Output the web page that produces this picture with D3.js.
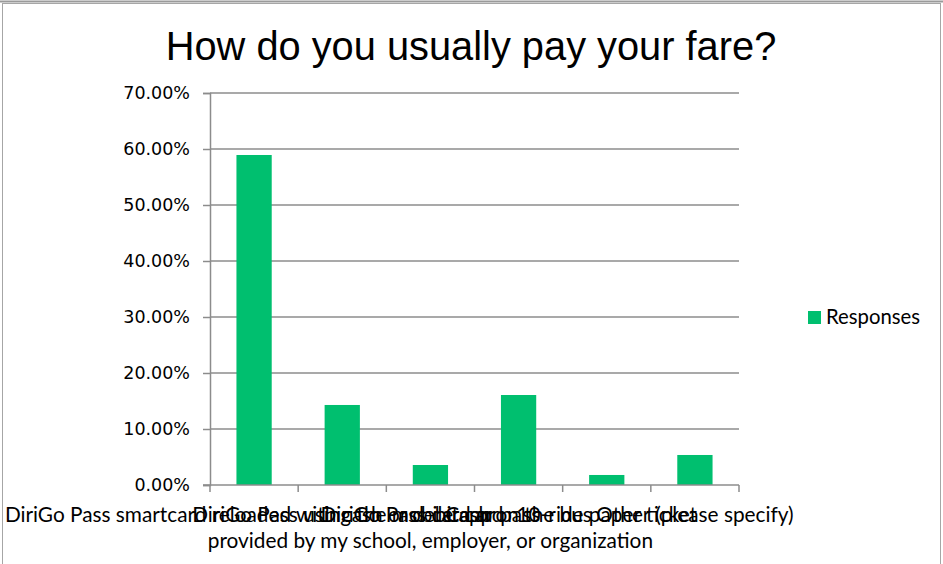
<!DOCTYPE html>
<html>
<head>
<meta charset="utf-8">
<script src="https://cdn.jsdelivr.net/npm/d3@7/dist/d3.min.js"></script>
<style>
  html, body { margin: 0; padding: 0; background: #fff; }
  svg { display: block; }
</style>
</head>
<body>
<svg id="chart" width="943" height="564"></svg>
<script>
// Survey question: fare payment method (share of responses)
const categories = [
  "DiriGo Pass smartcard reloaded with cash or debit card",
  "DiriGo Pass using the mobile app",
  "DiriGo Pass card or pass\nprovided by my school, employer, or organization",
  "Cash on the bus",
  "10-ride paper ticket",
  "Other (please specify)"
];
const responses = [0.5893, 0.1429, 0.0357, 0.1607, 0.0179, 0.0536];
const yTicks = [0, 0.1, 0.2, 0.3, 0.4, 0.5, 0.6, 0.7];
const seriesName = "Responses";
const chartTitle = "How do you usually pay your fare?";

const svg = d3.select("#chart");
const W = 943, H = 564;
const plot = { left: 210, right: 739, top: 93, bottom: 485 };
const green = "#00bf6f";
const gridColor = "#8c8c8c";

// outer chart frame
svg.append("line").attr("x1", 0).attr("x2", W).attr("y1", 1.5).attr("y2", 1.5)
  .attr("stroke", "#9a9a9a").attr("stroke-width", 2);
svg.append("rect").attr("x", 2.5).attr("y", 3.5).attr("width", 938).attr("height", 600)
  .attr("fill", "none").attr("stroke", "#a6a6a6").attr("stroke-width", 1);

// title
svg.append("text")
  .attr("x", 471).attr("y", 60)
  .attr("text-anchor", "middle")
  .attr("font-family", "Liberation Sans, Arial, sans-serif")
  .attr("font-size", 39.8)
  .attr("fill", "#000")
  .text(chartTitle);

const x = d3.scaleBand()
  .domain(categories)
  .range([plot.left, plot.right])
  .paddingInner(0.6)
  .paddingOuter(0.3);

const y = d3.scaleLinear()
  .domain([0, 0.7])
  .range([plot.bottom, plot.top]);

// horizontal gridlines
svg.append("g").selectAll("line")
  .data(yTicks.filter(t => t > 0))
  .join("line")
  .attr("x1", plot.left).attr("x2", plot.right)
  .attr("y1", d => y(d)).attr("y2", d => y(d))
  .attr("stroke", gridColor).attr("stroke-width", 1.5);

// y axis
const yAxis = svg.append("g")
  .attr("transform", `translate(${plot.left},0)`)
  .call(d3.axisLeft(y).tickValues(yTicks).tickFormat(d3.format(".2%")).tickSize(7).tickPadding(13));
yAxis.select(".domain").attr("stroke", gridColor).attr("stroke-width", 1.5);
yAxis.selectAll(".tick line").attr("stroke", gridColor).attr("stroke-width", 1.5);
yAxis.selectAll(".tick text")
  .attr("font-family", "DejaVu Sans, sans-serif")
  .attr("font-size", 17.5)
  .attr("fill", "#000");

// bars
svg.append("g").selectAll("rect")
  .data(categories.map((c, i) => ({ c, v: responses[i] })))
  .join("rect")
  .attr("x", d => x(d.c))
  .attr("width", x.bandwidth())
  .attr("y", d => y(d.v))
  .attr("height", d => y(0) - y(d.v))
  .attr("fill", green);

// x axis baseline and category boundary ticks
const step = x.step();
const bounds = d3.range(categories.length + 1).map(i => plot.left + i * step);
svg.append("line")
  .attr("x1", plot.left - 7).attr("x2", plot.right)
  .attr("y1", y(0)).attr("y2", y(0))
  .attr("stroke", gridColor).attr("stroke-width", 1.5);
svg.append("g").selectAll("line")
  .data(bounds)
  .join("line")
  .attr("x1", d => d).attr("x2", d => d)
  .attr("y1", y(0)).attr("y2", y(0) + 7)
  .attr("stroke", gridColor).attr("stroke-width", 1.5);

// category labels, centred under each category
const labels = svg.append("g")
  .attr("font-family", "Lato, sans-serif")
  .attr("font-size", 20.8)
  .attr("fill", "#000")
  .attr("text-anchor", "middle");
categories.forEach(c => {
  const cx = x(c) + x.bandwidth() / 2;
  c.split("\n").forEach((line, j) => {
    labels.append("text")
      .attr("x", cx)
      .attr("y", 522 + j * 26)
      .text(line);
  });
});

// legend
const lg = svg.append("g").attr("transform", "translate(808,311)");
lg.append("rect").attr("width", 13).attr("height", 13).attr("fill", green);
lg.append("text")
  .attr("x", 18).attr("y", 13)
  .attr("font-family", "Lato, sans-serif")
  .attr("font-size", 20.3)
  .attr("fill", "#000")
  .text(seriesName);
</script>
</body>
</html>
